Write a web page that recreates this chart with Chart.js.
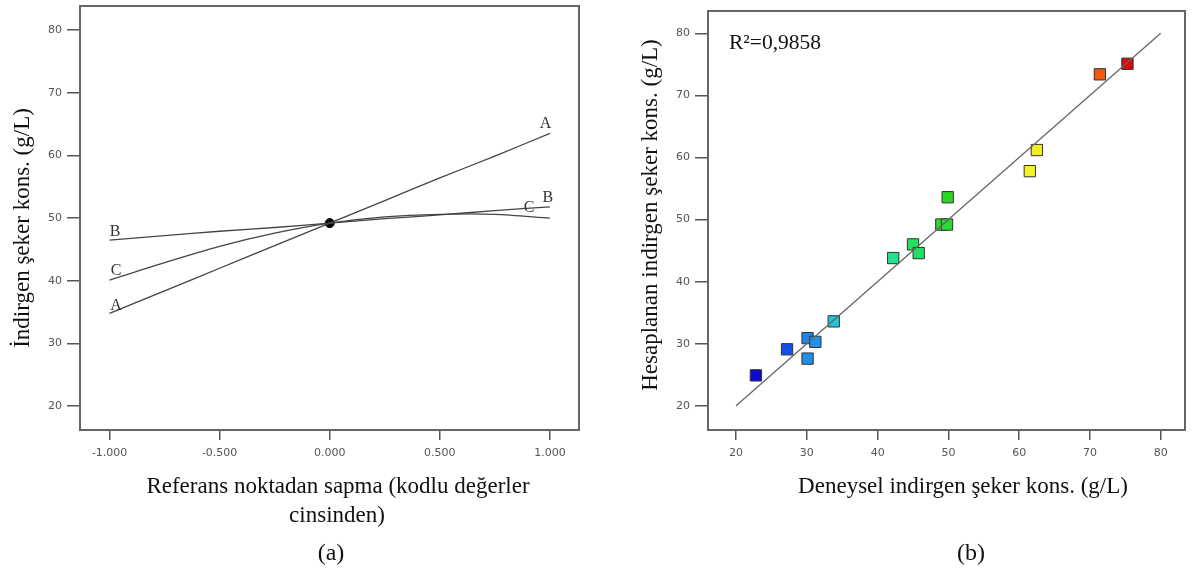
<!DOCTYPE html>
<html>
<head>
<meta charset="utf-8">
<script src="https://cdn.jsdelivr.net/npm/chart.js@4/dist/chart.umd.min.js"></script>
<style>
  body { margin: 0; background: #fff; }
  #wrap { position: relative; width: 1194px; height: 572px; }
  canvas { position: absolute; top: 0; }
</style>
</head>
<body>
<div id="wrap">
  <canvas id="chartA" width="597" height="572" style="left:0"></canvas>
  <canvas id="chartB" width="597" height="572" style="left:597px"></canvas>
</div>
<script>
// (a) perturbation plot
const deviation = [-1, -0.75, -0.5, -0.25, 0, 0.25, 0.5, 0.75, 1];
const lineA = [34.8, 38.4, 42.0, 45.6, 49.2, 52.8, 56.4, 59.9, 63.5];
const lineB = [46.5, 47.2, 47.9, 48.5, 49.2, 49.9, 50.5, 51.2, 51.8];
const lineC = [40.1, 42.9, 45.5, 47.6, 49.2, 50.2, 50.6, 50.6, 50.0];
const refPoint = {x: 0, y: 49.2};
const devTicks = [-1, -0.5, 0, 0.5, 1];
const concTicks = [20, 30, 40, 50, 60, 70, 80];

// (b) predicted vs actual
const actual    = [22.8, 27.2, 30.1, 31.2, 30.1, 33.8, 42.2, 45.0, 45.8, 49.0, 49.8, 49.9, 61.5, 62.5, 71.4, 75.3];
const predicted = [24.9, 29.1, 30.9, 30.3, 27.6, 33.6, 43.8, 46.0, 44.6, 49.2, 49.2, 53.6, 57.8, 61.2, 73.4, 75.1];
const pointColors = ['#0a0ad2', '#1450e6', '#1e84ea', '#2090ea', '#2090ea', '#22c2dc', '#22e08e', '#22e060', '#22e064',
                     '#2ada30', '#2ada30', '#2ed624', '#f4f424', '#f0ec20', '#f05a10', '#d80a0a'];
const fitLine = [20, 80];
const expTicks = [20, 30, 40, 50, 60, 70, 80];

const serif = '"Liberation Serif", "Times New Roman", serif';
const tickFont = {family: '"DejaVu Sans", sans-serif', size: 11};

function makeScale(min, max, ticks, fmt, isX, size) {
  return {
    type: 'linear',
    min: min, max: max,
    afterBuildTicks: s => { s.ticks = ticks.map(v => ({value: v})); },
    afterFit: s => {
      if (isX) s.height = size; else s.width = size;
      s.paddingLeft = s.paddingRight = s.paddingTop = s.paddingBottom = 0;
    },
    ticks: {color: '#555', font: tickFont, padding: isX ? 7 : 5, callback: fmt, maxRotation: 0, autoSkip: false},
    grid: {drawOnChartArea: false, drawTicks: true, tickLength: isX ? 10 : 13, color: '#555', lineWidth: 1.5},
    border: {display: true, color: '#666', width: 2}
  };
}

function frameAndText(texts) {
  return {
    id: 'frameText',
    afterDraw(chart) {
      const c = chart.ctx, a = chart.chartArea;
      c.save();
      c.strokeStyle = '#666';
      c.lineWidth = 2;
      c.strokeRect(a.left, a.top, a.right - a.left, a.bottom - a.top);
      texts.forEach(t => {
        c.font = t.font;
        c.fillStyle = t.color || '#111';
        c.textAlign = 'center';
        c.textBaseline = 'middle';
        let x = t.x, y = t.y;
        if (t.data) {
          x = chart.scales.x.getPixelForValue(t.data[0]);
          y = chart.scales.y.getPixelForValue(t.data[1]);
        }
        c.save();
        c.translate(x, y);
        if (t.rot) c.rotate(t.rot);
        c.fillText(t.text, 0, 0);
        c.restore();
      });
      c.restore();
    }
  };
}

const lineStyle = {showLine: true, borderColor: '#444', borderWidth: 1.3, pointRadius: 0, tension: 0.3};

new Chart(document.getElementById('chartA'), {
  type: 'scatter',
  data: {
    datasets: [
      {label: 'A', data: deviation.map((x, i) => ({x: x, y: lineA[i]})), ...lineStyle},
      {label: 'B', data: deviation.map((x, i) => ({x: x, y: lineB[i]})), ...lineStyle},
      {label: 'C', data: deviation.map((x, i) => ({x: x, y: lineC[i]})), ...lineStyle},
      {label: 'ref', data: [refPoint], pointRadius: 4.5, backgroundColor: '#000', borderColor: '#000'}
    ]
  },
  options: {
    responsive: false,
    animation: false,
    devicePixelRatio: 1,
    layout: {padding: {top: 6, right: 18, left: 0, bottom: 0}},
    plugins: {legend: {display: false}, tooltip: {enabled: false}},
    scales: {
      x: makeScale(-1.134, 1.132, devTicks, v => v.toFixed(3), true, 142),
      y: makeScale(16.2, 83.83, concTicks, v => v, false, 80)
    }
  },
  plugins: [frameAndText([
    {text: 'İndirgen şeker kons. (g/L)', x: 23, y: 228, rot: -Math.PI / 2, font: '23px ' + serif},
    {text: 'Referans noktadan sapma (kodlu değerler', x: 338, y: 487, font: '23px ' + serif},
    {text: 'cinsinden)', x: 337, y: 516, font: '23px ' + serif},
    {text: '(a)', x: 331, y: 554, font: '24px ' + serif},
    {text: 'A', data: [0.98, 65.0], font: '16px ' + serif, color: '#333'},
    {text: 'B', data: [0.99, 53.3], font: '16px ' + serif, color: '#333'},
    {text: 'C', data: [0.905, 51.7], font: '16px ' + serif, color: '#333'},
    {text: 'B', data: [-0.975, 47.8], font: '16px ' + serif, color: '#333'},
    {text: 'C', data: [-0.97, 41.6], font: '16px ' + serif, color: '#333'},
    {text: 'A', data: [-0.97, 36.0], font: '16px ' + serif, color: '#333'}
  ])]
});

new Chart(document.getElementById('chartB'), {
  type: 'scatter',
  data: {
    datasets: [
      {label: 'fit', data: fitLine.map(v => ({x: v, y: v})), showLine: true, borderColor: '#666', borderWidth: 1.3, pointRadius: 0},
      {label: 'runs', data: actual.map((x, i) => ({x: x, y: predicted[i]})), pointStyle: 'rect', pointRadius: 8,
       backgroundColor: pointColors, borderColor: '#333', borderWidth: 1}
    ]
  },
  options: {
    responsive: false,
    animation: false,
    devicePixelRatio: 1,
    layout: {padding: {top: 11, right: 6, left: 0, bottom: 0}},
    plugins: {legend: {display: false}, tooltip: {enabled: false}},
    scales: {
      x: makeScale(16.03, 83.43, expTicks, v => v, true, 142),
      y: makeScale(16.1, 83.6, concTicks, v => v, false, 111)
    }
  },
  plugins: [frameAndText([
    {text: 'Hesaplanan indirgen şeker kons. (g/L)', x: 54, y: 215, rot: -Math.PI / 2, font: '23px ' + serif},
    {text: 'Deneysel indirgen şeker kons. (g/L)', x: 366, y: 487, font: '23px ' + serif},
    {text: '(b)', x: 374, y: 554, font: '24px ' + serif},
    {text: 'R²=0,9858', x: 178, y: 43, font: '21.5px ' + serif}
  ])]
});
</script>
</body>
</html>
